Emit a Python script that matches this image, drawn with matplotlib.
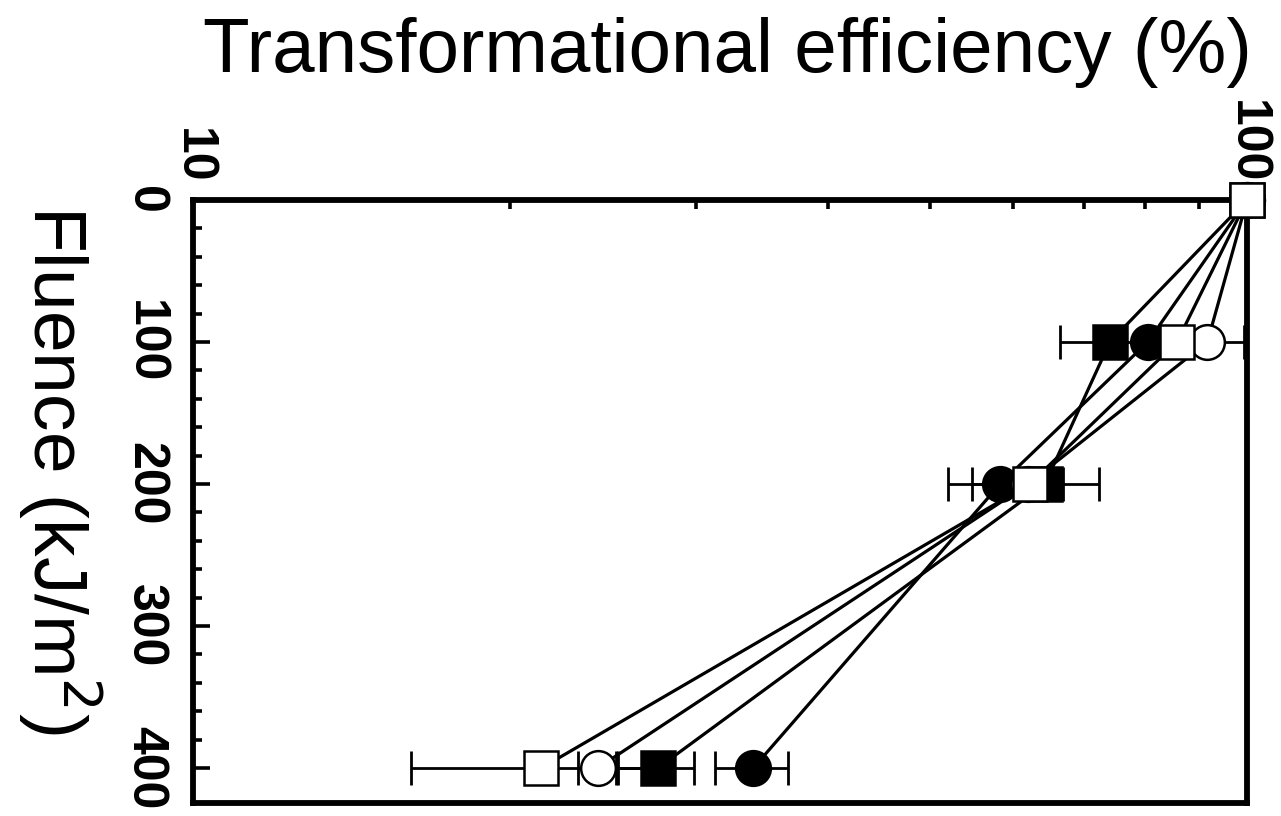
import matplotlib
matplotlib.use("Agg")
import matplotlib.pyplot as plt
from matplotlib.ticker import FixedLocator, NullFormatter

plt.rcParams['font.family'] = ['Liberation Sans', 'DejaVu Sans']

fluence = [0, 100, 200, 400]

# Transformational efficiency (%) for each series
eff_filled_square = [100, 74.1, 64.3, 27.6]
eff_filled_circle = [100, 80.5, 58.3, 34.0]
eff_open_square = [100, 85.8, 62.2, 21.4]
eff_open_circle = [100, 91.7, 62.0, 24.2]

err_filled_square = [0, 7.6, 2.6, 2.3]
err_filled_circle = [0, 0, 3.5, 2.7]
err_open_square = [0, 0, 10.2, 5.3]
err_open_circle = [0, 7.7, 0, 1.0]

x_ticks = [10, 100]
x_tick_labels = ["10", "100"]
y_ticks = [0, 100, 200, 300, 400]
y_tick_labels = ["0", "100", "200", "300", "400"]

fig = plt.figure(figsize=(12.81, 8.16), dpi=100)
ax = fig.add_axes([0.1507, 0.0159, 0.8228, 0.739])

series = [
    (eff_filled_square, err_filled_square, 's', 'black'),
    (eff_filled_circle, err_filled_circle, 'o', 'black'),
    (eff_open_circle, err_open_circle, 'o', 'white'),
    (eff_open_square, err_open_square, 's', 'white'),
]

for z, (vals, errs, mk, fc) in enumerate(series):
    ax.errorbar(vals, fluence, xerr=errs, fmt='none', ecolor='black',
                elinewidth=2.0, capsize=12, capthick=2.0, zorder=2 + z * 0.1)
for z, (vals, errs, mk, fc) in enumerate(series):
    ax.plot(vals, fluence, color='black', lw=2.3, zorder=3 + z * 0.1,
            clip_on=False)
for z, (vals, errs, mk, fc) in enumerate(series):
    ms = 24 if mk == 's' else 25
    ax.plot(vals, fluence, linestyle='none', marker=mk, markersize=ms,
            markerfacecolor=fc, markeredgecolor='black', markeredgewidth=1.8,
            zorder=5 + z * 0.1, clip_on=False)

ax.set_xscale('log')
ax.set_xlim(10, 100)
ax.set_ylim(424.6, 0)

ax.xaxis.set_ticks_position('top')
ax.xaxis.set_major_locator(FixedLocator(x_ticks))
ax.set_xticklabels(x_tick_labels)
ax.xaxis.set_minor_locator(FixedLocator([20, 30, 40, 50, 60, 70, 80, 90]))
ax.xaxis.set_minor_formatter(NullFormatter())

ax.yaxis.set_major_locator(FixedLocator(y_ticks))
ax.set_yticklabels(y_tick_labels)
ax.yaxis.set_minor_locator(FixedLocator([v for v in range(20, 420, 20) if v % 100]))

ax.tick_params(which='major', direction='in', length=12, width=2.6, top=True,
               bottom=False, left=True, right=False)
ax.tick_params(which='minor', direction='in', length=6.5, width=2.6, top=True,
               bottom=False, left=True, right=False)
ax.tick_params(axis='x', which='major', labelsize=36, pad=12)
ax.tick_params(axis='y', which='major', labelsize=36, pad=18)

for lab in ax.get_xticklabels():
    lab.set_rotation(270)
    lab.set_fontweight('bold')
    lab.set_va('bottom')
    lab.set_ha('center')
for lab in ax.get_yticklabels():
    lab.set_rotation(270)
    lab.set_fontweight('bold')
    lab.set_va('center')
    lab.set_ha('right')

for sp in ax.spines.values():
    sp.set_linewidth(4.2)

fig.text(0.5676, 0.912, "Transformational efficiency (%)", fontsize=55,
         ha='center', va='baseline')
fig.text(0.047, 0.424, "Fluence (kJ/m$^2$)", fontsize=54, rotation=270,
         ha='center', va='center')

fig.savefig("out.png", dpi=100)
